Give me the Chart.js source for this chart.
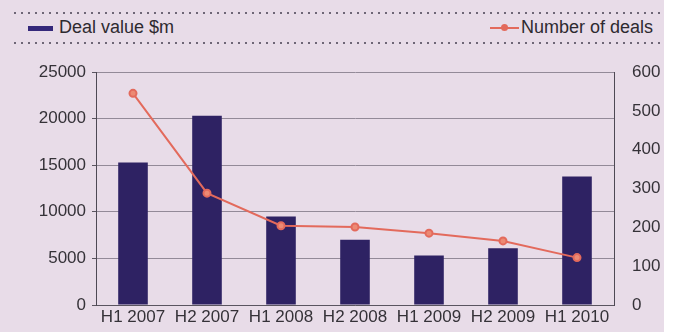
<!DOCTYPE html>
<html lang="en">
<head>
    <meta charset="UTF-8">
    <title>Deal value and number of deals</title>
    <style>
        html, body {
            margin: 0;
            padding: 0;
        }

        body {
            width: 677px;
            height: 332px;
            background-color: #ffffff;
            font-family: "Liberation Sans", Arial, sans-serif;
            position: relative;
            overflow: hidden;
        }

        .panel {
            position: absolute;
            left: 0;
            top: 0;
            width: 664px;
            height: 332px;
            background-color: #e8dce8;
        }

        .dots {
            position: absolute;
            left: 14px;
            width: 648px;
            height: 2px;
            background-image: repeating-linear-gradient(to right, #6e6676 0 2px, transparent 2px 7px);
        }

        .legend-item {
            position: absolute;
            top: 17px;
            font-size: 18px;
            color: #2e2a30;
            line-height: 20px;
            white-space: nowrap;
        }

        .swatch-bar {
            display: inline-block;
            width: 25px;
            height: 5px;
            background-color: #34287a;
            vertical-align: middle;
            margin-right: 6px;
        }

        .swatch-line {
            display: inline-block;
            position: relative;
            width: 29px;
            height: 2px;
            background-color: #e36a5c;
            vertical-align: middle;
            margin-right: 2px;
        }

        .swatch-line::after {
            content: "";
            position: absolute;
            left: 11px;
            top: -3px;
            width: 7px;
            height: 7px;
            border-radius: 50%;
            background-color: #e36a5c;
        }

        #chart {
            position: absolute;
            left: 0;
            top: 0;
        }
    </style>
</head>
<body>
    <div class="panel"></div>
    <div class="dots" style="top: 12px;"></div>
    <div class="dots" style="top: 42px;"></div>
    <div class="legend-item" style="left: 28px;"><span class="swatch-bar"></span>Deal value $m</div>
    <div class="legend-item" style="left: 490px;"><span class="swatch-line"></span>Number of deals</div>
    <canvas id="chart" width="677" height="332"></canvas>

    <script src="https://cdn.jsdelivr.net/npm/chart.js"></script>
    <script>
        // data
        const periods = ['H1 2007', 'H2 2007', 'H1 2008', 'H2 2008', 'H1 2009', 'H2 2009', 'H1 2010'];
        const dealValue = [15300, 20300, 9500, 7000, 5300, 6100, 13800];
        const dealCount = [545, 288, 204, 201, 185, 165, 122];

        const tickFont = { family: '"Liberation Sans", Arial, sans-serif', size: 17 };
        const tickColor = '#353238';
        const plainNumber = (value) => String(value);

        const ctx = document.getElementById('chart').getContext('2d');
        const chart = new Chart(ctx, {
            data: {
                labels: periods,
                datasets: [
                    {
                        type: 'line',
                        label: 'Number of deals',
                        data: dealCount,
                        yAxisID: 'y1',
                        borderColor: '#e36a5c',
                        borderWidth: 2,
                        pointBackgroundColor: '#ec8a74',
                        pointBorderColor: '#e36a5c',
                        pointRadius: 3.5,
                        tension: 0,
                        order: 0
                    },
                    {
                        type: 'bar',
                        label: 'Deal value $m',
                        data: dealValue,
                        yAxisID: 'y',
                        backgroundColor: '#2e2263',
                        barPercentage: 0.4,
                        categoryPercentage: 1,
                        order: 1
                    }
                ]
            },
            options: {
                responsive: false,
                animation: false,
                layout: { padding: { top: 72, left: 0, right: 0, bottom: 0 } },
                plugins: {
                    legend: { display: false },
                    tooltip: { enabled: false }
                },
                scales: {
                    x: {
                        grid: { display: false, drawTicks: false },
                        border: { display: true, color: '#5a5560', width: 1, dash: [3, 2] },
                        ticks: { font: tickFont, color: tickColor, padding: 2, maxRotation: 0, autoSkip: false },
                        afterFit: (scale) => { scale.height = 27; }
                    },
                    y: {
                        position: 'left',
                        min: 0,
                        max: 25000,
                        ticks: { stepSize: 5000, font: tickFont, color: tickColor, padding: 6, callback: plainNumber },
                        grid: { color: '#938a98', lineWidth: 1, tickLength: 4, tickColor: '#5a5560' },
                        border: { display: true, color: '#4e4954', width: 1 },
                        afterFit: (scale) => { scale.width = 96; }
                    },
                    y1: {
                        position: 'right',
                        min: 0,
                        max: 600,
                        ticks: { stepSize: 100, font: tickFont, color: tickColor, padding: 10, callback: plainNumber },
                        grid: { display: false },
                        border: { display: true, color: '#4e4954', width: 1 },
                        afterFit: (scale) => { scale.width = 63; }
                    }
                }
            }
        });
    </script>
</body>
</html>
